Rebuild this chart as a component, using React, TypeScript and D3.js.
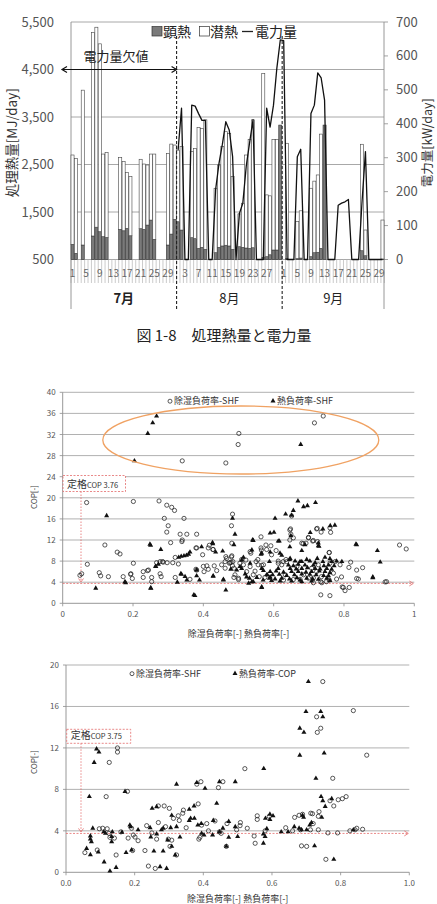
import React, { useEffect, useRef } from 'react';
import * as d3 from 'd3';

// ---- 図1-8 処理熱量と電力量 (Jul 1 - Sep 30) ----
const monthNames = ['7月', '8月', '9月'];
const monthDays = [31, 31, 30];
const dayTickLabels = [
  [1, 5, 9, 13, 17, 21, 25, 29],
  [3, 7, 11, 15, 19, 23, 27],
  [1, 5, 9, 13, 17, 21, 25, 29],
];

// 顕熱 [MJ/day]
const sensibleHeat = [
  820, 630, 0, 805, 0, 0, 995, 1180, 1085, 980, 965, 0, 0, 0, 1135, 1105, 1155, 1000, 0, 0, 1150, 1135, 1225, 1330, 925, 0, 0, 0, 805, 1035, 1345,
  1295, 1120, 0, 0, 960, 940, 735, 757, 715, 0, 0, 645, 757, 785, 800, 785, 715, 0, 770, 757, 742, 735, 748, 0, 0, 546, 560, 600, 700, 700, 3330,
  0, 520, 0, 0, 520, 530, 0, 0, 560, 643, 652, 735, 3330, 0, 0, 0, 0, 0, 0, 0, 0, 0, 0, 685, 580, 0, 0, 0, 0, 510,
];

// 潜熱 [MJ/day]
const latentHeat = [
  1880, 2000, 0, 3260, 0, 0, 4280, 4210, 3955, 1740, 1785, 0, 0, 0, 1510, 1455, 1180, 1245, 0, 0, 1460, 1375, 1265, 1390, 1795, 0, 0, 0, 1930, 1895, 1565,
  1505, 1755, 0, 0, 1810, 1900, 2545, 2503, 2725, 0, 0, 1355, 1733, 2090, 2390, 2370, 1530, 0, 690, 928, 1958, 2295, 2692, 0, 0, 3874, 1300, 1240, 2330, 2330, 0,
  0, 2427, 0, 0, 780, 995, 0, 0, 1440, 1507, 1628, 2405, 0, 0, 0, 0, 0, 0, 0, 0, 0, 0, 0, 2241, 541, 0, 0, 0, 0, 821,
];

// 電力量 [kW/day] (July is missing)
const powerUse: (number | null)[] = [
  null, null, null, null, null, null, null, null, null, null, null, null, null, null, null, null,
  null, null, null, null, null, null, null, null, null, null, null, null, null, null, null,
  323, 446, 0, 0, 455, 452, 430, 410, 410, 0, 0, 205, 283, 340, 406, 382, 303, 0, 136, 166, 275, 345, 412, 0, 0, 0, 446, 390, 455, 565, 647,
  645, 0, 0, 0, 303, 325, 0, 0, 430, 455, 550, 535, 470, 0, 0, 0, 160, 166, 170, 177, 0, 0, 0, 170, 318, 0, 0, 0, 0, 0,
];

const heatTicks = [500, 1500, 2500, 3500, 4500, 5500];
const powerTicks = [0, 100, 200, 300, 400, 500, 600, 700];

// ---- COP scatter (upper) ----
const copTicksA = [0, 4, 8, 12, 16, 20, 24, 28, 32, 36, 40];
const rateTicksA = [0, 0.2, 0.4, 0.6, 0.8, 1];
const ratedCopA = 3.76;

// 除湿負荷率-SHF
const dehumCircleA: [number, number][] = [
  [0.741, 35.5], [0.716, 34.2], [0.501, 32.2], [0.499, 30.1], [0.34, 27.0], [0.464, 26.6],
  [0.068, 19.1], [0.201, 19.3], [0.274, 19.4], [0.296, 18.6], [0.31, 18.2], [0.318, 17.6],
  [0.289, 16.1], [0.345, 16.1], [0.483, 16.9], [0.48, 14.7], [0.3, 14.7], [0.296, 13.5],
  [0.334, 13.1], [0.353, 13.1], [0.381, 13.1], [0.12, 11.05], [0.155, 9.7], [0.163, 9.35],
  [0.307, 11.5], [0.339, 11.7], [0.34, 12.0], [0.379, 10.5], [0.414, 10.5], [0.428, 10.2],
  [0.398, 9.2], [0.32, 8.7], [0.481, 9.0], [0.464, 8.85], [0.201, 7.6], [0.267, 7.7], [0.277, 7.9],
  [0.284, 7.9], [0.297, 7.7], [0.313, 7.7], [0.329, 7.45], [0.466, 8.5], [0.462, 7.9], [0.474, 7.6],
  [0.483, 7.1], [0.229, 6.0], [0.241, 6.2], [0.194, 5.6], [0.104, 5.8], [0.108, 5.2], [0.13, 5.05],
  [0.172, 5.05], [0.198, 4.7], [0.229, 4.9], [0.253, 4.9], [0.253, 4.1], [0.277, 5.6], [0.28, 5.05],
  [0.32, 4.9], [0.362, 4.55], [0.379, 6.45], [0.402, 6.0], [0.41, 7.1], [0.414, 6.45], [0.431, 7.1],
  [0.438, 6.2], [0.452, 7.3], [0.462, 6.65], [0.479, 7.8], [0.487, 4.9],
  [0.651, 16.55], [0.648, 14.1], [0.724, 14.2], [0.762, 13.45], [0.649, 13.1], [0.699, 12.5],
  [0.713, 11.9], [0.725, 11.7], [0.564, 12.6], [0.578, 11.05], [0.592, 10.9], [0.646, 12.0],
  [0.68, 11.4], [0.692, 11.4], [0.958, 11.05], [0.977, 10.3], [0.758, 9.65], [0.819, 7.8],
  [0.853, 6.75], [0.836, 6.3], [0.841, 4.6], [0.917, 4.05], [0.798, 3.0], [0.803, 2.4], [0.815, 3.0],
  [0.76, 1.45], [0.481, 11.4], [0.484, 7.9], [0.504, 7.6], [0.521, 8.2], [0.55, 7.9], [0.556, 7.3],
  [0.571, 7.3], [0.547, 6.1], [0.533, 6.95], [0.627, 7.9], [0.613, 7.6], [0.594, 9.2], [0.607, 10.0],
  [0.565, 10.1], [0.535, 9.5], [0.487, 6.65], [0.476, 7.7],
  [0.623, 7.3], [0.637, 7.9], [0.666, 6.95], [0.685, 5.4], [0.708, 6.65], [0.722, 6.0], [0.736, 5.05],
  [0.75, 4.1], [0.77, 5.7], [0.779, 4.6], [0.628, 4.4], [0.633, 5.4], [0.675, 4.55], [0.699, 4.75],
  [0.713, 3.9], [0.737, 3.9], [0.49, 5.4], [0.5, 4.75], [0.514, 7.3], [0.523, 6.0], [0.542, 5.4],
  [0.559, 5.05], [0.575, 4.9], [0.76, 7.6], [0.775, 7.9], [0.789, 7.3], [0.727, 7.3],
  [0.054, 5.6], [0.049, 5.3], [0.244, 6.3], [0.193, 5.5], [0.381, 6.3], [0.4, 7.0],
  [0.417, 11.0], [0.381, 10.5], [0.427, 10.2], [0.564, 10.5], [0.58, 10.2], [0.533, 9.8], [0.758, 9.6],
  [0.656, 12.4], [0.684, 11.3], [0.711, 11.8], [0.699, 12.4], [0.646, 13.9], [0.722, 14.1],
  [0.76, 14.3], [0.735, 13.5], [0.5, 4.5], [0.656, 4.5], [0.713, 4.8], [0.734, 4.1], [0.758, 4.4],
  [0.793, 5.0], [0.814, 6.8], [0.836, 4.7], [0.921, 4.1], [0.795, 3.1], [0.734, 1.6], [0.07, 7.4],
  [0.286, 7.8], [0.509, 8.3], [0.555, 8.3], [0.613, 8.0], [0.635, 8.3], [0.48, 8.8], [0.566, 7.2],
];

// 熱負荷率-SHF
const heatTriangleA: [number, number][] = [
  [0.267, 35.5], [0.256, 34.2], [0.242, 32.2], [0.204, 27.0], [0.677, 30.1],
  [0.125, 16.6], [0.483, 16.1], [0.49, 13.1], [0.248, 11.2], [0.279, 10.2], [0.395, 10.7],
  [0.426, 11.5], [0.435, 9.7], [0.362, 9.7], [0.33, 8.7], [0.337, 8.9], [0.345, 9.0], [0.352, 9.1],
  [0.358, 9.3], [0.272, 7.4], [0.265, 6.95], [0.094, 2.85], [0.177, 4.1], [0.251, 2.85], [0.336, 5.6],
  [0.348, 5.05], [0.381, 6.3], [0.353, 4.4], [0.326, 4.0], [0.381, 5.2], [0.376, 1.45], [0.389, 4.4],
  [0.428, 5.2], [0.457, 4.55], [0.464, 2.5], [0.478, 6.45],
  [0.669, 19.4], [0.685, 18.3], [0.696, 18.5], [0.719, 19.1], [0.656, 17.6], [0.634, 16.9],
  [0.651, 16.7], [0.604, 16.1], [0.74, 14.1], [0.761, 14.7], [0.774, 14.8], [0.59, 13.3],
  [0.601, 13.45], [0.649, 12.8], [0.704, 13.4], [0.727, 11.4], [0.727, 10.9], [0.54, 12.0],
  [0.616, 11.8], [0.646, 10.7], [0.68, 10.0], [0.834, 11.2], [0.895, 10.0], [0.903, 7.8], [0.882, 4.85],
  [0.566, 3.0], [0.57, 4.4], [0.538, 4.1], [0.529, 3.8], [0.538, 10.1], [0.514, 8.7], [0.509, 8.2],
  [0.533, 7.6], [0.588, 7.9], [0.566, 9.5], [0.618, 9.5], [0.645, 8.3], [0.675, 7.9], [0.504, 6.95],
  [0.495, 6.3], [0.542, 11.9], [0.613, 11.8], [0.487, 11.1], [0.427, 11.3], [0.25, 11.0], [0.729, 10.8],
  [0.689, 11.1], [0.836, 11.1], [0.455, 9.9], [0.564, 9.3], [0.59, 9.7], [0.623, 9.1], [0.264, 7.0],
  [0.179, 3.9], [0.25, 2.9], [0.373, 1.6], [0.566, 3.1], [0.338, 5.5], [0.428, 5.1], [0.457, 4.4],
  [0.523, 5.0], [0.542, 4.1], [0.59, 5.0], [0.882, 5.0],
  [0.647, 8.5], [0.694, 8.3], [0.724, 8.5], [0.746, 8.7], [0.76, 8.45],
  [0.661, 8.0], [0.68, 7.9], [0.703, 8.0], [0.718, 7.7], [0.74, 7.9], [0.765, 7.9], [0.779, 8.0],
  [0.642, 7.25], [0.656, 7.1], [0.67, 7.4], [0.689, 7.25], [0.713, 7.25], [0.743, 7.1], [0.756, 7.25], [0.772, 7.1], [0.794, 7.9],
  [0.613, 6.6], [0.647, 6.6], [0.664, 6.5], [0.68, 6.6], [0.696, 6.75], [0.718, 6.6], [0.732, 6.5], [0.751, 6.6], [0.765, 6.45],
  [0.59, 6.0], [0.607, 6.1], [0.628, 5.9], [0.651, 6.0], [0.67, 6.0], [0.692, 5.9], [0.708, 6.0], [0.73, 6.1], [0.746, 6.0], [0.76, 5.8],
  [0.582, 5.4], [0.597, 5.4], [0.616, 5.5], [0.637, 5.25], [0.659, 5.4], [0.68, 5.55], [0.703, 5.5], [0.721, 5.4], [0.742, 5.25], [0.756, 5.2],
  [0.588, 4.75], [0.604, 4.6], [0.623, 4.75], [0.645, 4.6], [0.666, 4.85], [0.694, 4.75], [0.711, 4.6], [0.727, 4.55], [0.751, 4.75],
  [0.594, 4.3], [0.618, 4.2], [0.651, 4.2], [0.68, 4.1], [0.708, 4.2], [0.76, 4.3], [0.675, 4.4],
  [0.509, 6.6], [0.519, 5.55], [0.531, 4.75], [0.552, 4.9], [0.571, 6.2], [0.58, 5.4], [0.566, 6.6],
];

// ---- COP scatter (lower) ----
const copTicksB = [0, 4, 8, 12, 16, 20];
const rateTicksB = [0, 0.2, 0.4, 0.6, 0.8, 1.0];
const ratedCopB = 3.75;

// 除湿負荷率-SHF
const dehumCircleB: [number, number][] = [
  [0.748, 18.4], [0.73, 15.0], [0.837, 15.6], [0.742, 13.9], [0.732, 13.5], [0.876, 11.3],
  [0.15, 12.0], [0.15, 11.6], [0.126, 10.6], [0.521, 10.0], [0.777, 9.07], [0.381, 8.5],
  [0.393, 8.74], [0.457, 8.74], [0.444, 8.17], [0.117, 7.3], [0.179, 7.8], [0.269, 6.4],
  [0.286, 6.4], [0.301, 6.17], [0.385, 6.6], [0.342, 6.0], [0.34, 5.7], [0.327, 5.45],
  [0.313, 5.2], [0.33, 5.0], [0.41, 4.7], [0.434, 4.95], [0.395, 4.55], [0.469, 4.7],
  [0.508, 4.8], [0.557, 5.1], [0.557, 5.45], [0.592, 5.4], [0.507, 4.5], [0.528, 4.25],
  [0.447, 3.9], [0.452, 3.76], [0.497, 4.1], [0.548, 3.5], [0.551, 2.8], [0.39, 3.37],
  [0.387, 3.2], [0.467, 2.5], [0.055, 1.9], [0.091, 2.15], [0.146, 1.67], [0.194, 2.1],
  [0.23, 2.1], [0.24, 0.6], [0.26, 0.37], [0.303, 2.5], [0.322, 1.67], [0.298, 3.2],
  [0.308, 3.1], [0.097, 4.2], [0.107, 4.25], [0.12, 4.2], [0.125, 3.76], [0.141, 3.3],
  [0.128, 3.37], [0.16, 3.9], [0.181, 3.3], [0.191, 4.25], [0.196, 3.6], [0.201, 3.4],
  [0.21, 3.05], [0.235, 4.5], [0.25, 3.8], [0.264, 3.2], [0.269, 4.8], [0.666, 5.3],
  [0.679, 5.5], [0.689, 5.6], [0.683, 4.1], [0.712, 4.1], [0.72, 4.7], [0.713, 5.7],
  [0.718, 5.65], [0.735, 5.4], [0.737, 5.85], [0.735, 4.1], [0.701, 2.5], [0.686, 2.55],
  [0.757, 1.25], [0.763, 3.8], [0.791, 3.8], [0.769, 6.9], [0.78, 6.4], [0.793, 7.0],
  [0.816, 7.3], [0.842, 4.1], [0.847, 4.25], [0.864, 4.15], [0.827, 4.0], [0.805, 7.1],
  [0.29, 4.4], [0.35, 4.3], [0.415, 4.0], [0.58, 4.0], [0.64, 4.3], [0.66, 4.0],
];

// 熱負荷率-COP
const heatTriangleB: [number, number][] = [
  [0.706, 18.4], [0.699, 15.5], [0.742, 15.5], [0.748, 15.0], [0.681, 13.9], [0.693, 13.5],
  [0.681, 11.3], [0.752, 11.5], [0.089, 11.9], [0.096, 11.6], [0.082, 10.6], [0.576, 10.0],
  [0.728, 9.07], [0.322, 8.5], [0.381, 8.65], [0.447, 8.74], [0.493, 8.74], [0.405, 8.1],
  [0.068, 7.3], [0.172, 7.8], [0.264, 6.33], [0.251, 6.17], [0.373, 6.4], [0.359, 6.07],
  [0.363, 5.2], [0.374, 5.2], [0.359, 5.0], [0.439, 6.65], [0.308, 5.5], [0.429, 5.0],
  [0.394, 4.7], [0.384, 4.55], [0.474, 4.9], [0.581, 5.2], [0.594, 5.6], [0.603, 5.45],
  [0.594, 5.1], [0.493, 4.4], [0.585, 4.2], [0.457, 4.25], [0.447, 3.9], [0.474, 3.37],
  [0.5, 3.44], [0.575, 3.7], [0.575, 2.8], [0.58, 3.44], [0.427, 3.6], [0.395, 3.76],
  [0.402, 3.6], [0.467, 2.5], [0.332, 3.4], [0.305, 4.3], [0.06, 2.3], [0.071, 1.7],
  [0.094, 1.95], [0.111, 1.0], [0.128, 0.12], [0.146, 0.47], [0.175, 1.9], [0.191, 2.15],
  [0.274, 0.54], [0.293, 0.37], [0.256, 2.05], [0.283, 2.05], [0.308, 2.5], [0.318, 1.67],
  [0.296, 3.1], [0.071, 3.5], [0.071, 3.2], [0.074, 2.95], [0.078, 4.25], [0.11, 3.9],
  [0.115, 3.76], [0.133, 3.44], [0.133, 2.95], [0.135, 3.9], [0.163, 3.85], [0.186, 4.55],
  [0.188, 4.4], [0.21, 4.1], [0.245, 4.3], [0.247, 3.4], [0.278, 4.1], [0.283, 4.25],
  [0.264, 3.7], [0.627, 3.9], [0.647, 3.9], [0.665, 4.4], [0.689, 5.5], [0.692, 5.3],
  [0.679, 4.25], [0.686, 4.1], [0.701, 4.1], [0.71, 4.55], [0.715, 4.8], [0.745, 5.3],
  [0.724, 2.55], [0.78, 1.25], [0.743, 7.3], [0.748, 6.9], [0.755, 6.35], [0.774, 7.1],
  [0.837, 4.1], [0.322, 4.4],
];

const FONT = '"Noto Sans CJK JP", "Noto Sans", sans-serif';
const GRID = '#a8a8a8';
const AXIS = '#8c8c8c';
const TICK_TEXT = '#555';
const RED = '#e36b6b';

interface ScatterSpec {
  left: number;
  right: number;
  top: number;
  bottom: number;
  copTicks: number[];
  rateTicks: number[];
  rateFormat: (v: number) => string;
  circles: [number, number][];
  triangles: [number, number][];
  legendY: number;
  legendCircleX: number;
  legendTriangleX: number;
  circleLabel: string;
  triangleLabel: string;
  ratedCop: number;
  ratedBox: { x: number; y: number; w: number; h: number };
  ratedLineX: number;
  yTitleX: number;
  yTitleY: number;
  xTitleY: number;
}

function drawScatter(svg: d3.Selection<SVGSVGElement, unknown, null, undefined>, s: ScatterSpec) {
  const x = d3.scaleLinear().domain([0, 1]).range([s.left, s.right]);
  const copMax = s.copTicks[s.copTicks.length - 1];
  const y = d3.scaleLinear().domain([0, copMax]).range([s.bottom, s.top]);
  const g = svg.append('g');

  // gridlines
  g.selectAll('.grid')
    .data(s.copTicks.filter(t => t > 0))
    .enter()
    .append('line')
    .attr('x1', s.left)
    .attr('x2', s.right)
    .attr('y1', d => y(d))
    .attr('y2', d => y(d))
    .attr('stroke', GRID)
    .attr('stroke-width', 0.9);

  // axes
  g.append('line').attr('x1', s.left).attr('x2', s.left).attr('y1', s.top).attr('y2', s.bottom)
    .attr('stroke', AXIS).attr('stroke-width', 0.9);
  g.append('line').attr('x1', s.left).attr('x2', s.right).attr('y1', s.bottom).attr('y2', s.bottom)
    .attr('stroke', AXIS).attr('stroke-width', 0.9);

  s.copTicks.forEach(t => {
    g.append('line').attr('x1', s.left - 3).attr('x2', s.left).attr('y1', y(t)).attr('y2', y(t))
      .attr('stroke', AXIS).attr('stroke-width', 0.8);
    g.append('text')
      .attr('x', s.left - 7)
      .attr('y', y(t) + 3)
      .attr('text-anchor', 'end')
      .style('font-size', '8px')
      .style('fill', TICK_TEXT)
      .text(String(t));
  });
  s.rateTicks.forEach(t => {
    g.append('line').attr('x1', x(t)).attr('x2', x(t)).attr('y1', s.bottom).attr('y2', s.bottom + 3)
      .attr('stroke', AXIS).attr('stroke-width', 0.8);
    g.append('text')
      .attr('x', x(t))
      .attr('y', s.bottom + 14)
      .attr('text-anchor', 'middle')
      .style('font-size', '8px')
      .style('fill', TICK_TEXT)
      .text(s.rateFormat(t));
  });

  // axis titles
  g.append('text')
    .attr('transform', `translate(${s.yTitleX},${s.yTitleY}) rotate(-90)`)
    .attr('text-anchor', 'middle')
    .style('font-size', '8px')
    .style('fill', '#444')
    .text('COP[-]');
  g.append('text')
    .attr('x', (s.left + s.right) / 2)
    .attr('y', s.xTitleY)
    .attr('text-anchor', 'middle')
    .style('font-size', '9px')
    .style('fill', '#333')
    .text('除湿負荷率[-]  熱負荷率[-]');

  // rated COP annotation
  const ry = y(s.ratedCop);
  g.append('rect')
    .attr('x', s.ratedBox.x)
    .attr('y', s.ratedBox.y)
    .attr('width', s.ratedBox.w)
    .attr('height', s.ratedBox.h)
    .attr('fill', '#fff')
    .attr('stroke', RED)
    .attr('stroke-width', 0.8)
    .attr('stroke-dasharray', '2,1.5');
  const label = g.append('text')
    .attr('x', s.ratedBox.x + 4)
    .attr('y', s.ratedBox.y + s.ratedBox.h - 4)
    .style('fill', '#333');
  label.append('tspan').style('font-size', '10px').text('定格');
  label.append('tspan').style('font-size', '7.5px').text(`COP  ${s.ratedCop.toFixed(2)}`);

  g.append('line')
    .attr('x1', s.ratedLineX).attr('x2', s.ratedLineX)
    .attr('y1', s.ratedBox.y + s.ratedBox.h).attr('y2', ry - 2)
    .attr('stroke', RED).attr('stroke-width', 0.8).attr('stroke-dasharray', '1.5,1.5');
  g.append('path')
    .attr('d', `M${s.ratedLineX - 2.5},${ry - 5} L${s.ratedLineX},${ry - 1.5} L${s.ratedLineX + 2.5},${ry - 5}`)
    .attr('fill', 'none').attr('stroke', RED).attr('stroke-width', 0.8);
  g.append('line')
    .attr('x1', s.left).attr('x2', s.right - 2)
    .attr('y1', ry).attr('y2', ry)
    .attr('stroke', RED).attr('stroke-width', 0.8).attr('stroke-dasharray', '2,1.5');
  g.append('path')
    .attr('d', `M${s.right - 5},${ry - 2.5} L${s.right - 1},${ry} L${s.right - 5},${ry + 2.5}`)
    .attr('fill', 'none').attr('stroke', RED).attr('stroke-width', 0.8);

  // markers
  const tri = d3.symbol().type(d3.symbolTriangle).size(11);
  g.selectAll('.circle-pt')
    .data(s.circles)
    .enter()
    .append('circle')
    .attr('cx', d => x(d[0]))
    .attr('cy', d => y(d[1]))
    .attr('r', 2.1)
    .attr('fill', 'none')
    .attr('stroke', '#222')
    .attr('stroke-width', 0.75);
  g.selectAll('.tri-pt')
    .data(s.triangles)
    .enter()
    .append('path')
    .attr('transform', d => `translate(${x(d[0])},${y(d[1])})`)
    .attr('d', tri)
    .attr('fill', '#111');

  // legend
  g.append('circle').attr('cx', s.legendCircleX + 2).attr('cy', s.legendY - 2.8).attr('r', 2)
    .attr('fill', 'none').attr('stroke', '#222').attr('stroke-width', 0.75);
  g.append('text').attr('x', s.legendCircleX + 6).attr('y', s.legendY)
    .style('font-size', '9px').style('fill', '#333').text(s.circleLabel);
  g.append('path').attr('transform', `translate(${s.legendTriangleX + 2},${s.legendY - 3})`)
    .attr('d', tri).attr('fill', '#111');
  g.append('text').attr('x', s.legendTriangleX + 6).attr('y', s.legendY)
    .style('font-size', '9px').style('fill', '#333').text(s.triangleLabel);

  return { x, y, g };
}

const App: React.FC = () => {
  const svgRef = useRef<SVGSVGElement>(null);

  useEffect(() => {
    if (!svgRef.current) return;
    const svg = d3.select(svgRef.current);
    svg.selectAll('*').remove();
    svg.style('font-family', FONT);

    // ================= chart 1 =================
    const left = 71;
    const right = 384;
    const top = 22;
    const base = 259.5;
    const nDays = sensibleHeat.length;

    const x = d3.scaleBand<number>().domain(d3.range(nDays)).range([left, right]).paddingInner(0.1);
    const step = x.step();
    const yHeat = d3.scaleLinear().domain([500, 5500]).range([base, top]);
    const yPower = d3.scaleLinear().domain([0, 700]).range([base, top]);
    const clampHeat = (v: number) => yHeat(Math.max(500, Math.min(5500, v)));

    const c1 = svg.append('g');

    heatTicks.forEach(t => {
      c1.append('line')
        .attr('x1', left).attr('x2', right)
        .attr('y1', yHeat(t)).attr('y2', yHeat(t))
        .attr('stroke', GRID).attr('stroke-width', 1);
      c1.append('text')
        .attr('x', 54).attr('y', yHeat(t) + 4.5)
        .attr('text-anchor', 'end')
        .style('font-size', '13px').style('fill', TICK_TEXT)
        .text(d3.format(',')(t));
    });
    powerTicks.forEach(t => {
      c1.append('line')
        .attr('x1', right).attr('x2', right + 4)
        .attr('y1', yPower(t)).attr('y2', yPower(t))
        .attr('stroke', AXIS).attr('stroke-width', 0.8);
      c1.append('text')
        .attr('x', 396).attr('y', yPower(t) + 4.5)
        .style('font-size', '13px').style('fill', TICK_TEXT)
        .text(String(t));
    });

    // category ticks (hatched band under the axis)
    d3.range(nDays + 1).forEach(i => {
      const xx = left + i * step;
      c1.append('line')
        .attr('x1', xx).attr('x2', xx)
        .attr('y1', base).attr('y2', 283)
        .attr('stroke', '#b5b5b5').attr('stroke-width', 0.7);
    });
    [left, right].forEach(xx => {
      c1.append('line')
        .attr('x1', xx).attr('x2', xx)
        .attr('y1', top).attr('y2', 309)
        .attr('stroke', AXIS).attr('stroke-width', 0.9);
    });

    // day and month labels
    let offset = 0;
    const monthEdges: number[] = [];
    monthDays.forEach((n, m) => {
      dayTickLabels[m].forEach(d => {
        const i = offset + d - 1;
        c1.append('text')
          .attr('x', (x(i) as number) + x.bandwidth() / 2)
          .attr('y', 277)
          .attr('text-anchor', 'middle')
          .style('font-size', '10px').style('fill', '#666')
          .text(String(d));
      });
      const x0 = left + offset * step;
      const x1 = left + (offset + n) * step;
      c1.append('text')
        .attr('x', (x0 + x1) / 2)
        .attr('y', 303)
        .attr('text-anchor', 'middle')
        .style('font-size', '13px').style('fill', '#222')
        .style('font-weight', m === 0 ? '700' : '400')
        .text(monthNames[m]);
      offset += n;
      if (m < monthDays.length - 1) monthEdges.push(x1);
    });

    // stacked bars: 顕熱 (grey) + 潜熱 (white)
    d3.range(nDays).forEach(i => {
      const s = sensibleHeat[i];
      const l = latentHeat[i];
      const bx = x(i) as number;
      const bw = x.bandwidth();
      if (s > 500) {
        c1.append('rect')
          .attr('x', bx).attr('width', bw)
          .attr('y', clampHeat(s)).attr('height', base - clampHeat(s))
          .attr('fill', '#7a7a7a').attr('stroke', '#333').attr('stroke-width', 0.6);
      }
      if (l > 0) {
        const y0 = clampHeat(s);
        const y1 = clampHeat(s + l);
        if (y0 - y1 > 0) {
          c1.append('rect')
            .attr('x', bx).attr('width', bw)
            .attr('y', y1).attr('height', y0 - y1)
            .attr('fill', '#fff').attr('stroke', '#444').attr('stroke-width', 0.6);
        }
      }
    });

    // 電力量 line
    const powerLine = d3.line<number | null>()
      .defined(d => d !== null)
      .x((_, i) => (x(i) as number) + x.bandwidth() / 2)
      .y(d => yPower(d as number));
    c1.append('path')
      .datum(powerUse)
      .attr('fill', 'none')
      .attr('stroke', '#111')
      .attr('stroke-width', 1.3)
      .attr('stroke-linejoin', 'round')
      .attr('d', powerLine);

    // month dividers
    monthEdges.forEach(xx => {
      c1.append('line')
        .attr('x1', xx).attr('x2', xx)
        .attr('y1', 36).attr('y2', 310)
        .attr('stroke', '#222').attr('stroke-width', 1.1)
        .attr('stroke-dasharray', '3,2');
    });

    // 電力量欠値 arrow
    const ay = yHeat(4500);
    const ax0 = 62;
    const ax1 = monthEdges[0];
    c1.append('line').attr('x1', ax0 + 1).attr('x2', ax1 - 1).attr('y1', ay).attr('y2', ay)
      .attr('stroke', '#111').attr('stroke-width', 1.2);
    c1.append('path').attr('d', `M${ax0 + 5},${ay - 3} L${ax0},${ay} L${ax0 + 5},${ay + 3}`)
      .attr('fill', 'none').attr('stroke', '#111').attr('stroke-width', 1.2);
    c1.append('path').attr('d', `M${ax1 - 5},${ay - 3} L${ax1},${ay} L${ax1 - 5},${ay + 3}`)
      .attr('fill', 'none').attr('stroke', '#111').attr('stroke-width', 1.2);
    c1.append('text').attr('x', 116).attr('y', 61).attr('text-anchor', 'middle')
      .style('font-size', '13px').style('fill', '#222').text('電力量欠値');

    // legend
    c1.append('rect').attr('x', 152).attr('y', 26.5).attr('width', 10).attr('height', 9.5)
      .attr('fill', '#7a7a7a').attr('stroke', '#333').attr('stroke-width', 0.7);
    c1.append('text').attr('x', 163).attr('y', 36.5).style('font-size', '14px').style('fill', '#222').text('顕熱');
    c1.append('rect').attr('x', 199.5).attr('y', 26.5).attr('width', 10).attr('height', 9.5)
      .attr('fill', '#fff').attr('stroke', '#333').attr('stroke-width', 0.7);
    c1.append('text').attr('x', 210).attr('y', 36.5).style('font-size', '14px').style('fill', '#222').text('潜熱');
    c1.append('line').attr('x1', 242).attr('x2', 253).attr('y1', 31.5).attr('y2', 31.5)
      .attr('stroke', '#222').attr('stroke-width', 1.3);
    c1.append('text').attr('x', 255).attr('y', 36.5).style('font-size', '14px').style('fill', '#222').text('電力量');

    // axis titles
    c1.append('text')
      .attr('transform', `translate(17,${(top + base) / 2 + 2}) rotate(-90)`)
      .attr('text-anchor', 'middle')
      .style('font-size', '13.5px').style('fill', '#333')
      .text('処理熱量[MJ/day]');
    c1.append('text')
      .attr('transform', `translate(432,${(top + base) / 2 + 2}) rotate(-90)`)
      .attr('text-anchor', 'middle')
      .style('font-size', '12.5px').style('fill', '#333')
      .text('電力量[kW/day]');

    // caption
    c1.append('text').attr('x', 224).attr('y', 341).attr('text-anchor', 'middle')
      .style('font-size', '15px').style('fill', '#222')
      .text('図 1-8　処理熱量と電力量');

    // ================= chart 2 =================
    const a = drawScatter(svg, {
      left: 62.7, right: 414.3, top: 392.3, bottom: 603.3,
      copTicks: copTicksA, rateTicks: rateTicksA,
      rateFormat: v => (v === 0 || v === 1 ? String(v) : v.toFixed(1)),
      circles: dehumCircleA, triangles: heatTriangleA,
      legendY: 404, legendCircleX: 168, legendTriangleX: 271,
      circleLabel: '除湿負荷率-SHF', triangleLabel: '熱負荷率-SHF',
      ratedCop: ratedCopA,
      ratedBox: { x: 63, y: 475.5, w: 62.5, h: 16 },
      ratedLineX: 81,
      yTitleX: 37, yTitleY: 497, xTitleY: 637,
    });
    a.g.append('ellipse')
      .attr('cx', 240.8).attr('cy', 440).attr('rx', 138).attr('ry', 34)
      .attr('fill', 'none').attr('stroke', '#f0a263').attr('stroke-width', 1.3);

    // ================= chart 3 =================
    drawScatter(svg, {
      left: 66, right: 409.3, top: 665, bottom: 872.3,
      copTicks: copTicksB, rateTicks: rateTicksB,
      rateFormat: v => v.toFixed(1),
      circles: dehumCircleB, triangles: heatTriangleB,
      legendY: 676.5, legendCircleX: 130, legendTriangleX: 233,
      circleLabel: '除湿負荷率-SHF', triangleLabel: '熱負荷率-COP',
      ratedCop: ratedCopB,
      ratedBox: { x: 66.7, y: 729.3, w: 64, h: 14 },
      ratedLineX: 81,
      yTitleX: 37, yTitleY: 762, xTitleY: 902,
    });
  }, []);

  return (
    <div style={{ position: 'absolute', left: 0, top: 0 }}>
      <svg ref={svgRef} width={437} height={904} style={{ display: 'block', background: '#fff' }}></svg>
    </div>
  );
};

export default App;
